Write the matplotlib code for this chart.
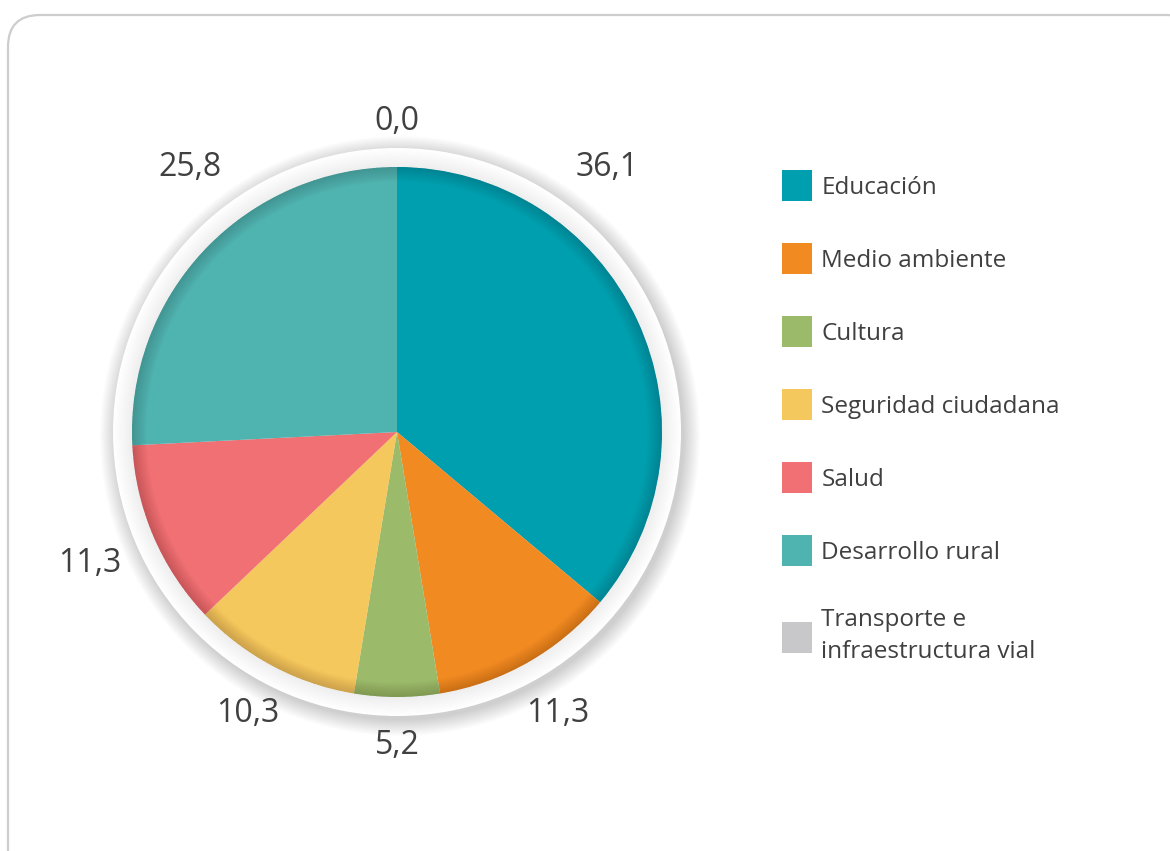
import numpy as np
import matplotlib
matplotlib.use("Agg")
from matplotlib import pyplot as plt
from matplotlib.patches import Circle, Wedge, FancyBboxPatch

sectores = ["Educación", "Medio ambiente", "Cultura", "Seguridad ciudadana",
            "Salud", "Desarrollo rural", "Transporte e\ninfraestructura vial"]
valores = [36.1, 11.3, 5.2, 10.3, 11.3, 25.8, 0.0]
colores = ["#009fb0", "#f28a22", "#9bbb6a", "#f5c85e", "#f07073", "#4fb4b0", "#c8c8ca"]

W, H = 1170, 851
CX, CY, R = 397, H - 432, 265
TEXT = "#404040"

plt.rcParams['font.family'] = ['Open Sans', 'DejaVu Sans']

fig = plt.figure(figsize=(W / 100, H / 100), dpi=100)
ax = fig.add_axes([0, 0, 1, 1])

# rounded card border
card = FancyBboxPatch((8, -40), W + 20, H - 14 + 40 - 1,
                      boxstyle="round,pad=0,rounding_size=32",
                      fc="white", ec="#cdcdcd", lw=1.6, zorder=0)
ax.add_patch(card)

# soft drop shadow around the white halo disc
for r in np.linspace(300, 284, 16):
    ax.add_patch(Circle((CX + 3, CY - 4), r, fc="#000000", ec="none",
                        alpha=0.010, zorder=1))
ax.add_patch(Circle((CX, CY), 284, fc="white", ec="none", zorder=2))
# inner shading of the halo next to the pie rim
for r in np.linspace(283, R, 18):
    ax.add_patch(Circle((CX, CY), r, fc="#000000", ec="none",
                        alpha=0.005, zorder=3))

wedges, texts = ax.pie(valores, colors=colores, startangle=90, counterclock=False,
                       center=(CX, CY), radius=R, labels=None,
                       wedgeprops=dict(edgecolor="none"))
for w in wedges:
    w.set_zorder(4)

# darker rim inside the pie
for r in np.linspace(R, R - 14, 14):
    ax.add_patch(Wedge((CX, CY), R, 0, 360, width=R - r + 0.5, fc="#000000",
                       ec="none", alpha=0.011, zorder=5))

ax.set_xlim(0, W)
ax.set_ylim(0, H)
ax.set_aspect('equal')
ax.axis('off')

# value labels outside the wedges; two of them are nudged off the mid-angle
label_dist = [338, 324, 313, 318, 334, 336, 310]
label_angle = {0: 90 - 38.4, 5: 90 + 38.0}
for i, (w, v) in enumerate(zip(wedges, valores)):
    ang = label_angle.get(i, (w.theta1 + w.theta2) / 2)
    x = CX + label_dist[i] * np.cos(np.radians(ang))
    y = CY + label_dist[i] * np.sin(np.radians(ang))
    ax.text(x, y, f"{v:.1f}".replace(".", ","), ha="center", va="center",
            fontsize=23, color=TEXT, zorder=6)

leg = ax.legend(wedges, sectores, loc="upper left", bbox_to_anchor=(782 / W, 1 - 170 / H),
                frameon=False, fontsize=17.5, handlelength=1.24, handleheight=1.6,
                handletextpad=0.38, labelspacing=1.72, borderaxespad=0, borderpad=0)
for t in leg.get_texts():
    t.set_color(TEXT)
    t.set_linespacing(1.45)

fig.savefig("out.png", dpi=100)
